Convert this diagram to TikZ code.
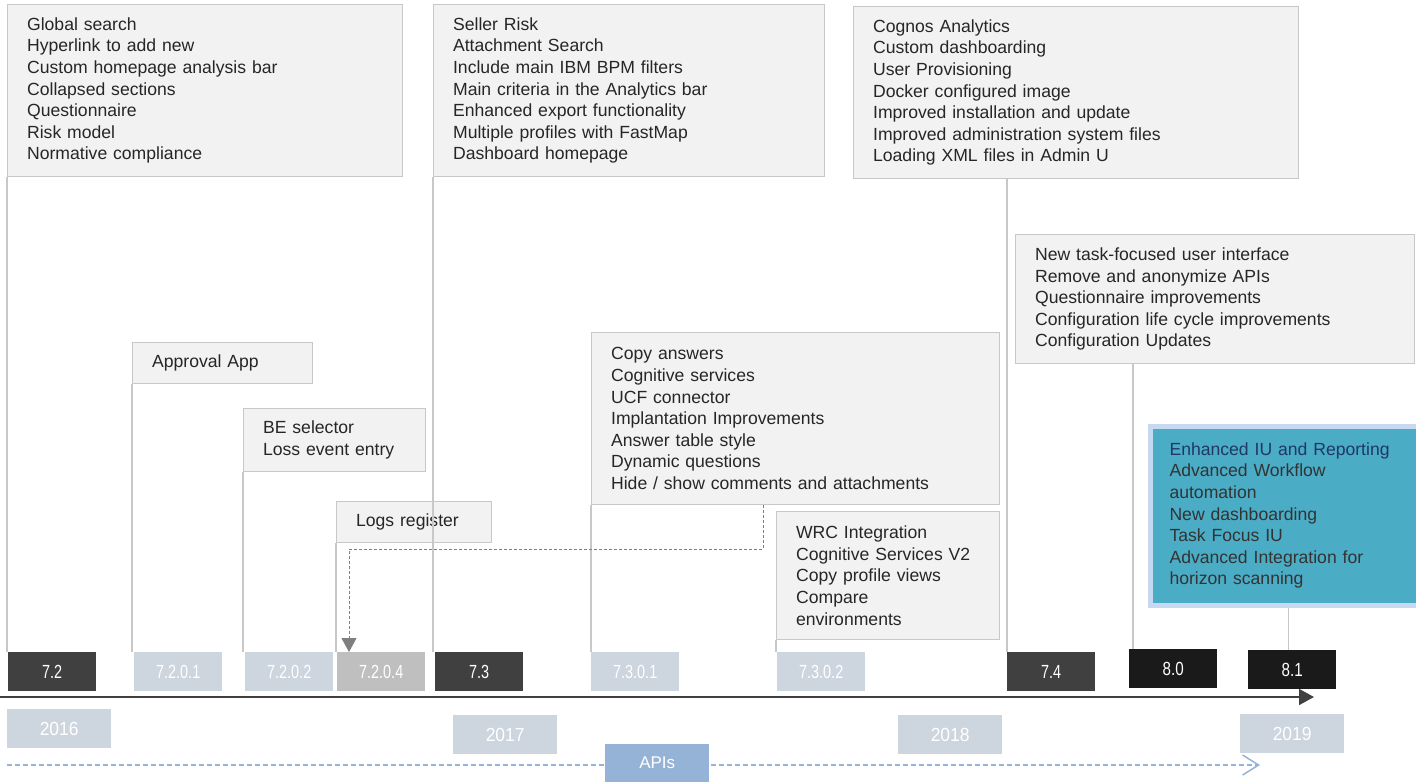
\documentclass[tikz,border=0pt]{standalone}
\usepackage{fontspec}
\setmainfont{Liberation Sans}
\usepackage{graphicx}
\usetikzlibrary{arrows.meta,calc}
\definecolor{boxfill}{HTML}{F2F2F2}
\definecolor{boxline}{HTML}{C8C8C8}
\definecolor{txt}{HTML}{262626}
\definecolor{txtb}{HTML}{333333}
\definecolor{verdark}{HTML}{404040}
\definecolor{verblack}{HTML}{1A1A1A}
\definecolor{verlight}{HTML}{CDD5DF}
\definecolor{vergray}{HTML}{BFBFBF}
\definecolor{yearfill}{HTML}{CDD5DF}
\definecolor{apiblue}{HTML}{95B3D7}
\definecolor{tealfill}{HTML}{4BACC6}
\definecolor{tealrim}{HTML}{C6D9F1}
\definecolor{navy}{HTML}{1F3864}
\definecolor{dashgray}{HTML}{7F7F7F}
\newcommand\vtxt[1]{\scalebox{0.76}[1]{#1}}
\newcommand\vtxtb[1]{\scalebox{0.8}[1]{#1}}
\newcommand\ytxt[1]{\scalebox{0.92}[1]{#1}}
\tikzset{
  feat/.style={draw=boxline, line width=1.2pt, fill=boxfill, anchor=north west,
    align=left, inner xsep=19.5pt, inner ysep=0pt, text=txt,
    font=\fontsize{17.6}{21.6}\selectfont},
  ver/.style={anchor=north west, minimum width=88pt, minimum height=39pt,
    inner sep=0pt, text=white, font=\fontsize{19}{19}\selectfont},
  yearbox/.style={anchor=north west, fill=yearfill, minimum width=104pt,
    minimum height=39pt, inner sep=0pt, text=white, font=\fontsize{19}{19}\selectfont},
  vline/.style={draw=boxline, line width=1.2pt},
  dashconn/.style={draw=dashgray, line width=0.9pt, dash pattern=on 3pt off 2pt,
    -{Triangle[length=14pt,width=15pt,fill=dashgray]}},
}
\begin{document}
\begin{tikzpicture}[x=1pt,y=-1pt]
\useasboundingbox (0,0) rectangle (1416,782);

% feature boxes
\node[feat, text width=356pt, minimum height=172pt] (b1) at (7,4)
  {Global search\\Hyperlink to add new\\Custom homepage analysis bar\\Collapsed sections\\Questionnaire\\Risk model\\Normative compliance};
\node[feat, text width=352pt, minimum height=172pt] (b2) at (433,4)
  {Seller Risk\\Attachment Search\\Include main IBM BPM filters\\Main criteria in the Analytics bar\\Enhanced export functionality\\Multiple profiles with FastMap\\Dashboard homepage};
\node[feat, text width=406pt, minimum height=172pt] (b3) at (853,6)
  {Cognos Analytics\\Custom dashboarding\\User Provisioning\\Docker configured image\\Improved installation and update\\Improved administration system files\\Loading XML files in Admin U};
\node[feat, text width=360pt, minimum height=129pt] (b4) at (1015,234)
  {New task-focused user interface\\Remove and anonymize APIs\\Questionnaire improvements\\Configuration life cycle improvements\\Configuration Updates};
\node[feat, text width=141pt, minimum height=41pt] (appr) at (132,342) {Approval App};
\node[feat, text width=143pt, minimum height=63pt] (be) at (243,408) {BE selector\\Loss event entry};
\node[feat, text width=116pt, minimum height=41pt] (logs) at (336,501) {Logs register};
\node[feat, text width=369pt, minimum height=172pt] (copy) at (591,332)
  {Copy answers\\Cognitive services\\UCF connector\\Implantation Improvements\\Answer table style\\Dynamic questions\\Hide / show comments and attachments};
\node[feat, text width=184pt, minimum height=128pt] (wrc) at (776,511)
  {WRC Integration\\Cognitive Services V2\\Copy profile views\\Compare\\environments};
\node[draw=tealrim, line width=5pt, fill=tealfill, anchor=north west,
  minimum height=179pt, align=left, inner xsep=19.5pt, inner ysep=0pt,
  text width=246pt, text=txtb, font=\fontsize{17.6}{21.6}\selectfont] (b81) at (1147.5,423.5)
  {\textcolor{navy}{Enhanced IU and Reporting}\\Advanced Workflow\\automation\\New dashboarding\\Task Focus IU\\Advanced Integration for\\horizon scanning};

% version boxes
\node[ver, fill=verdark] (v72) at (8,652) {\vtxt{7.2}};
\node[ver, fill=verlight] (v7201) at (134,652) {\vtxt{7.2.0.1}};
\node[ver, fill=verlight] (v7202) at (245,652) {\vtxt{7.2.0.2}};
\node[ver, fill=vergray] (v7204) at (337,652) {\vtxt{7.2.0.4}};
\node[ver, fill=verdark] (v73) at (435,652) {\vtxt{7.3}};
\node[ver, fill=verlight] (v7301) at (591,652) {\vtxt{7.3.0.1}};
\node[ver, fill=verlight] (v7302) at (777,652) {\vtxt{7.3.0.2}};
\node[ver, fill=verdark] (v74) at (1007,652) {\vtxt{7.4}};
\node[ver, fill=verblack] (v80) at (1129,649) {\vtxtb{8.0}};
\node[ver, fill=verblack] (v81) at (1248,650) {\vtxtb{8.1}};

% connectors from boxes to versions
\draw[vline] (b1.south west) -- (b1.south west |- v72.north);
\draw[vline] (b2.south west) -- (b2.south west |- v73.north);
\draw[vline] (v74.north west |- b3.south) -- (v74.north west);
\coordinate (c80) at ([xshift=4pt]v80.north west);
\draw[vline] (c80 |- b4.south) -- (c80);
\coordinate (c81) at ([xshift=-4pt]v81.north);
\draw[vline] (c81 |- b81.south) -- (c81);
\draw[vline] (appr.south west) -- (appr.south west |- v7201.north);
\draw[vline] (be.south west) -- (be.south west |- v7202.north);
\draw[vline] (logs.south west) -- (logs.south west |- v7204.north);
\draw[vline] (copy.south west) -- (copy.south west |- v7301.north);
\draw[vline] (wrc.south west) -- (wrc.south west |- v7302.north);

% dashed connector
\coordinate (dstart) at ([xshift=172pt]copy.south west);
\coordinate (dend) at ([xshift=12pt]v7204.north west);
\draw[dashconn] (dstart) -- ++(0,44) -| (dend);

% timeline
\coordinate (tl0) at (0,697);
\coordinate (tl1) at (1314,697);
\draw[draw=verdark, line width=1.8pt, -{Triangle[length=15pt,width=16pt]}] (tl0) -- (tl1);

% years
\node[yearbox] (y16) at (7,709) {\ytxt{2016}};
\node[yearbox] (y17) at (453,715) {\ytxt{2017}};
\node[yearbox] (y18) at (898,715) {\ytxt{2018}};
\node[yearbox] (y19) at (1240,714) {\ytxt{2019}};

% APIs
\coordinate (a0) at (7,765);
\coordinate (a1) at (1260,765);
\draw[draw=apiblue, line width=1.5pt, dash pattern=on 5pt off 3pt,
  -{Straight Barb[length=16pt,width=20pt,line width=1.5pt]}] (a0) -- (a1);
\node[anchor=north west, fill=apiblue, minimum width=104pt, minimum height=38pt,
  inner sep=0pt, text=white, font=\fontsize{17}{17}\selectfont] (api) at (605,744) {APIs};
\end{tikzpicture}
\end{document}
